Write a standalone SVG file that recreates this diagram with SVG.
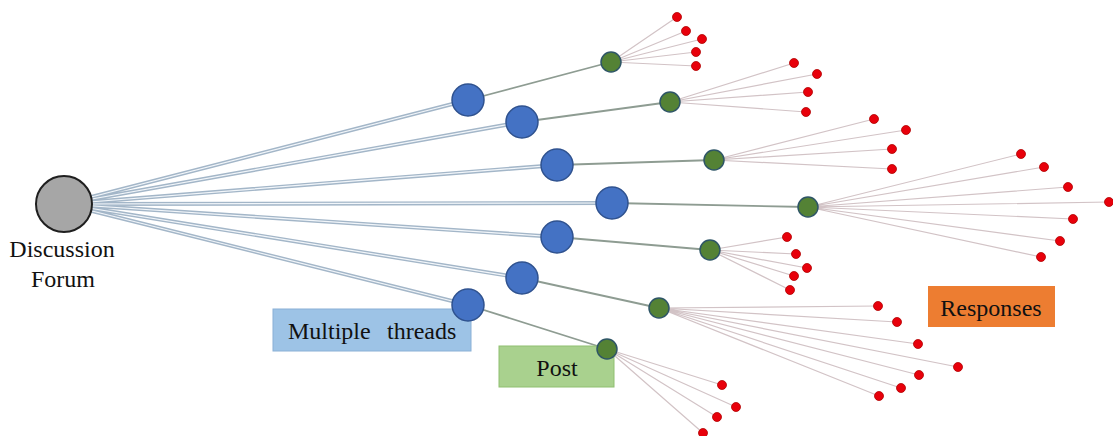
<svg xmlns="http://www.w3.org/2000/svg" width="1113" height="436" viewBox="0 0 1113 436">
<style>
.dbo{stroke:#a3b6c8;stroke-width:4;fill:none}
.dbi{stroke:#f2f6fa;stroke-width:1.2;fill:none}
.thr{stroke:#8e9c92;stroke-width:1.8;fill:none}
.rsp{stroke:#d2c3c6;stroke-width:1.2;fill:none}
.forum{fill:#a6a6a6;stroke:#1f1f1f;stroke-width:2}
.blue{fill:#4472c4;stroke:#2f528f;stroke-width:1.5}
.green{fill:#548235;stroke:#2e5566;stroke-width:1.5}
.red{fill:#e8000b;stroke:#b00000;stroke-width:0.8}
.t{font-family:"Liberation Serif","Times New Roman",serif;font-size:24px;fill:#111}
</style>
<g id="connectors">
<g id="forum-threads">
<path class="dbo" d="M64 204L468 100M64 204L522 122M64 204L557 165M64 204L612 203M64 204L557 237M64 204L522 278M64 204L468 305"/>
<path class="dbi" d="M64 204L468 100M64 204L522 122M64 204L557 165M64 204L612 203M64 204L557 237M64 204L522 278M64 204L468 305"/>
</g>
<path class="thr" d="M468 100L611 62M522 122L670 102M557 165L714 160M612 203L808 207M557 237L710 250M522 278L659 308M468 305L607 349"/>
<path class="rsp" d="M611 62L677 17M611 62L686 31M611 62L702 39M611 62L696 52M611 62L696 66
M670 102L794 63M670 102L817 74M670 102L808 92M670 102L806 112
M714 160L874 119M714 160L906 130M714 160L892 149M714 160L892 169
M808 207L1021 154M808 207L1044 167M808 207L1068 187M808 207L1109 202M808 207L1073 219M808 207L1060 241M808 207L1041 257
M710 250L787 237M710 250L796 254M710 250L807 268M710 250L794 276M710 250L790 290
M659 308L878 306M659 308L897 322M659 308L918 344M659 308L958 367M659 308L919 375M659 308L901 388M659 308L879 396
M607 349L722 385M607 349L736 407M607 349L717 417M607 349L703 433"/>
</g>
<g id="label-threads">
<rect x="273" y="309" width="198" height="42" fill="#9dc3e6" stroke="#8ab0d6" stroke-width="1"/>
<text class="t" y="339"><tspan x="288">Multiple</tspan><tspan x="387">threads</tspan></text>
</g>
<g id="label-post">
<rect x="499" y="346" width="115" height="41" fill="#a9d18e" stroke="#8fbf70" stroke-width="1"/>
<text class="t" x="557" y="376" text-anchor="middle">Post</text>
</g>
<g id="label-responses">
<rect x="928" y="286" width="127" height="41" fill="#ed7d31"/>
<text class="t" x="991" y="316" text-anchor="middle">Responses</text>
</g>
<g id="forum">
<circle class="forum" cx="64" cy="204" r="28"/>
<text class="t" x="62" y="257" text-anchor="middle">Discussion</text>
<text class="t" x="63" y="287" text-anchor="middle">Forum</text>
</g>
<g id="threads">
<circle id="thread1" class="blue" cx="468" cy="100" r="16"/>
<circle id="thread2" class="blue" cx="522" cy="122" r="16"/>
<circle id="thread3" class="blue" cx="557" cy="165" r="16"/>
<circle id="thread4" class="blue" cx="612" cy="203" r="16"/>
<circle id="thread5" class="blue" cx="557" cy="237" r="16"/>
<circle id="thread6" class="blue" cx="522" cy="278" r="16"/>
<circle id="thread7" class="blue" cx="468" cy="305" r="16"/>
</g>
<g id="posts">
<circle id="post1" class="green" cx="611" cy="62" r="10"/>
<circle id="post2" class="green" cx="670" cy="102" r="10"/>
<circle id="post3" class="green" cx="714" cy="160" r="10"/>
<circle id="post4" class="green" cx="808" cy="207" r="10"/>
<circle id="post5" class="green" cx="710" cy="250" r="10"/>
<circle id="post6" class="green" cx="659" cy="308" r="10"/>
<circle id="post7" class="green" cx="607" cy="349" r="10"/>
</g>
<g id="responses">
<g id="resp1"><circle class="red" cx="677" cy="17" r="4.5"/><circle class="red" cx="686" cy="31" r="4.5"/><circle class="red" cx="702" cy="39" r="4.5"/><circle class="red" cx="696" cy="52" r="4.5"/><circle class="red" cx="696" cy="66" r="4.5"/></g>
<g id="resp2"><circle class="red" cx="794" cy="63" r="4.5"/><circle class="red" cx="817" cy="74" r="4.5"/><circle class="red" cx="808" cy="92" r="4.5"/><circle class="red" cx="806" cy="112" r="4.5"/></g>
<g id="resp3"><circle class="red" cx="874" cy="119" r="4.5"/><circle class="red" cx="906" cy="130" r="4.5"/><circle class="red" cx="892" cy="149" r="4.5"/><circle class="red" cx="892" cy="169" r="4.5"/></g>
<g id="resp4"><circle class="red" cx="1021" cy="154" r="4.5"/><circle class="red" cx="1044" cy="167" r="4.5"/><circle class="red" cx="1068" cy="187" r="4.5"/><circle class="red" cx="1109" cy="202" r="4.5"/><circle class="red" cx="1073" cy="219" r="4.5"/><circle class="red" cx="1060" cy="241" r="4.5"/><circle class="red" cx="1041" cy="257" r="4.5"/></g>
<g id="resp5"><circle class="red" cx="787" cy="237" r="4.5"/><circle class="red" cx="796" cy="254" r="4.5"/><circle class="red" cx="807" cy="268" r="4.5"/><circle class="red" cx="794" cy="276" r="4.5"/><circle class="red" cx="790" cy="290" r="4.5"/></g>
<g id="resp6"><circle class="red" cx="878" cy="306" r="4.5"/><circle class="red" cx="897" cy="322" r="4.5"/><circle class="red" cx="918" cy="344" r="4.5"/><circle class="red" cx="958" cy="367" r="4.5"/><circle class="red" cx="919" cy="375" r="4.5"/><circle class="red" cx="901" cy="388" r="4.5"/><circle class="red" cx="879" cy="396" r="4.5"/></g>
<g id="resp7"><circle class="red" cx="722" cy="385" r="4.5"/><circle class="red" cx="736" cy="407" r="4.5"/><circle class="red" cx="717" cy="417" r="4.5"/><circle class="red" cx="703" cy="433" r="4.5"/></g>
</g>
</svg>
